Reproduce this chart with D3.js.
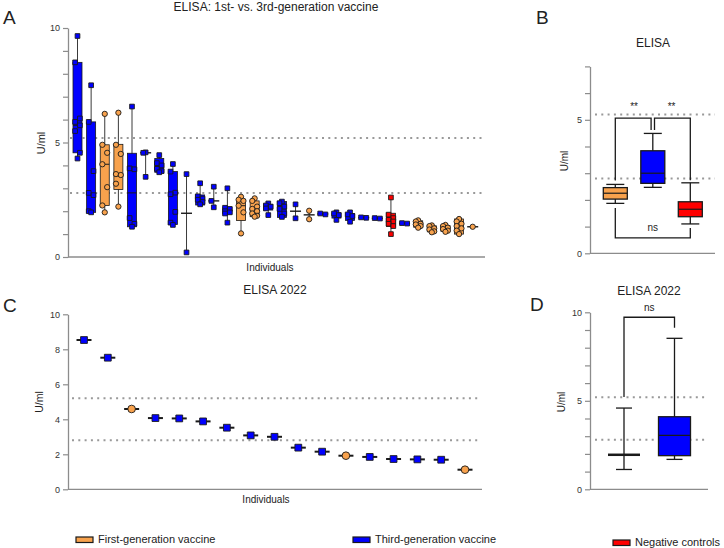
<!DOCTYPE html>
<html>
<head>
<meta charset="utf-8">
<script src="https://cdn.jsdelivr.net/npm/d3@7"></script>
<style>
body { margin: 0; background: #fff; }
text { font-family: "Liberation Sans", Arial, sans-serif; }
</style>
</head>
<body>
<script>
var width = 724,
    height = 548;

// ---- data ----
// groups: F = first-generation, T = third-generation, N = negative controls
var aGroup = ["T","T","F","F","T","T","T","T","T","T","T","T","F","F","T",
              "T","T","F","T","T","T","T","T","N","T","F","F","F","F","F"];

// panel A: every measurement of each individual
var aPoints = [
  [9.65, 8.5, 6.05, 5.9, 5.75, 5.5, 4.55, 4.3],
  [7.5, 5.9, 3.75, 2.8, 2.7, 2.0, 1.95],
  [6.25, 4.9, 4.55, 4.05, 3.05, 2.25, 1.95],
  [6.3, 4.9, 4.5, 3.62, 3.58, 3.2, 2.2],
  [6.57, 3.87, 3.83, 1.7, 1.45, 1.32],
  [4.57, 4.55, 3.5],
  [4.45, 4.1, 4.0, 3.85, 3.75, 3.7],
  [4.06, 3.73, 2.81, 2.74, 1.97, 1.5, 1.4],
  [3.62, 0.2],
  [3.22, 2.65, 2.55, 2.5, 2.4, 2.3],
  [3.07, 2.45, 2.17],
  [3.0, 2.15, 2.1, 2.0, 1.95, 1.9, 1.5],
  [2.63, 2.5, 2.45, 2.24, 1.95, 1.03],
  [2.56, 2.45, 2.2, 2.1, 2.0, 1.9, 1.8, 1.76],
  [2.34, 2.25, 2.2, 2.12, 1.83],
  [2.42, 2.35, 2.2, 2.1, 1.9, 1.75],
  [2.3, 1.69],
  [2.02, 1.65],
  [1.9, 1.86],
  [1.95, 1.9, 1.83, 1.62],
  [1.95, 1.86, 1.79, 1.54],
  [1.73, 1.71],
  [1.7, 1.68],
  [2.6, 1.85, 1.7, 1.62, 1.55, 1.45, 1.35, 1.0],
  [1.48, 1.46],
  [1.6, 1.55, 1.45, 1.42, 1.35, 1.28],
  [1.38, 1.35, 1.25, 1.2, 1.12, 1.08],
  [1.4, 1.35, 1.28, 1.22, 1.15, 1.1],
  [1.66, 1.55, 1.45, 1.35, 1.25, 1.15, 1.0],
  [1.32]
];
// panel A: [q1, median, q3]; q1/q3 null when no box is drawn
var aBox = [
  [4.55, 5.75, 8.5], [1.95, 2.75, 5.9], [2.25, 4.05, 4.9], [2.95, 3.6, 4.92],
  [1.32, 2.8, 4.53], [null, 4.55, null], [3.7, 3.95, 4.3], [1.42, 2.75, 3.73],
  [null, 1.91, null], [2.27, 2.48, 2.71], [null, 2.45, null], [1.88, 2.0, 2.17],
  [1.59, 2.24, 2.52], [1.76, 2.05, 2.45], [2.05, 2.2, 2.3], [1.73, 2.1, 2.42],
  [null, 2.0, null], [null, 1.84, null], [null, 1.88, null], [1.7, 1.86, 1.93],
  [1.6, 1.8, 1.9], [null, 1.72, null], [null, 1.69, null], [1.33, 1.6, 1.91],
  [null, 1.47, null], [1.3, 1.44, 1.58], [1.1, 1.22, 1.36], [1.12, 1.25, 1.38],
  [1.0, 1.35, 1.66], [null, 1.32, null]
];

// panel B: [min, q1, median, q3, max]
var bGroups = ["F", "T", "N"];
var bStats = [
  [1.87, 2.03, 2.25, 2.46, 2.58],
  [2.47, 2.62, 3.0, 3.84, 4.49],
  [1.1, 1.37, 1.65, 1.93, 2.64]
];
var bSig = ["**", "**", "ns"];

// panel C: one value per individual (2022)
var cGroup = ["T","T","F","T","T","T","T","T","T","T","T","F","T","T","T","T","F"];
var cValues = [8.53, 7.52, 4.59, 4.07, 4.05, 3.88, 3.52, 3.08, 3.0, 2.38, 2.15,
               1.92, 1.85, 1.73, 1.71, 1.69, 1.12];

// panel D: [min, q1, median, q3, max]
var dGroups = ["F", "T"];
var dStats = [
  [1.12, 1.95, 1.95, 1.95, 4.59],
  [1.69, 1.9, 3.05, 4.1, 8.53]
];
var dSig = "ns";

var cutoffs = [5.2, 2.8];

var legendKeys = ["F", "T", "N"];
var legendLabels = ["First-generation vaccine", "Third-generation vaccine", "Negative controls"];

// ---- style ----
var color = {F: "#f8a24d", T: "#0000ff", N: "#ff0000"};
var axisColor = "#8c8c8c",
    ink = "#1a1a1a";

var svg = d3.select("body").append("svg")
    .attr("width", width)
    .attr("height", height);

function leftAxis(x0, y, ticks, labelled) {
  var g = svg.append("g")
    .attr("transform", "translate(" + x0 + ",0)")
    .call(d3.axisLeft(y).tickValues(ticks).tickSize(5).tickSizeOuter(0).tickPadding(3)
      .tickFormat(function(d) { return labelled.indexOf(d) >= 0 ? d : ""; }));
  g.attr("font-family", null).attr("font-size", null);
  g.select(".domain").attr("stroke", axisColor).attr("stroke-width", 1.3);
  g.selectAll(".tick line").attr("stroke", axisColor).attr("stroke-width", 1.2);
  g.selectAll(".tick text").attr("fill", "#333").style("font-size", "9px");
}

function baseLine(x0, x1, y) {
  svg.append("line")
    .attr("x1", x0).attr("x2", x1)
    .attr("y1", y).attr("y2", y)
    .attr("stroke", axisColor).attr("stroke-width", 1.3);
}

function cutoffLines(x0, x1, y) {
  svg.append("g").selectAll("line")
    .data(cutoffs)
    .enter().append("line")
    .attr("x1", x0).attr("x2", x1)
    .attr("y1", function(d) { return y(d); })
    .attr("y2", function(d) { return y(d); })
    .attr("stroke", "#999")
    .attr("stroke-width", 2)
    .attr("stroke-dasharray", "2,4.3");
}

function label(x, y, txt, size, anchor, rotate) {
  var t = svg.append("text")
    .attr("x", x).attr("y", y)
    .attr("text-anchor", anchor || "middle")
    .style("font-size", size + "px")
    .attr("fill", "#222")
    .text(txt);
  if (rotate) t.attr("transform", "rotate(-90," + x + "," + y + ")");
  return t;
}

function marker(g, data, size) {
  // squares for blue/red, circles for orange
  g.selectAll("path")
    .data(data)
    .enter().append("path")
    .attr("d", function(d) {
      var type = d.g === "F" ? d3.symbolCircle : d3.symbolSquare;
      return d3.symbol().type(type).size(size)();
    })
    .attr("transform", function(d) { return "translate(" + d.x + "," + d.y + ")"; })
    .attr("fill", function(d) { return color[d.g]; })
    .attr("stroke", ink)
    .attr("stroke-width", 0.9);
}

// ---- panel A ----
var xA = d3.scalePoint().domain(d3.range(aPoints.length)).range([77.5, 472.7]);
var yA = d3.scaleLinear().domain([0, 10]).range([257, 28]);
var boxA = 9;

cutoffLines(70, 484, yA);

var gA = svg.append("g");
aPoints.forEach(function(vals, i) {
  var cx = xA(i), b = aBox[i], k = aGroup[i];
  gA.append("line")
    .attr("x1", cx).attr("x2", cx)
    .attr("y1", yA(d3.min(vals))).attr("y2", yA(d3.max(vals)))
    .attr("stroke", "#3a3a3a").attr("stroke-width", 1);
  if (b[0] !== null) {
    gA.append("rect")
      .attr("x", cx - boxA / 2).attr("width", boxA)
      .attr("y", yA(b[2])).attr("height", yA(b[0]) - yA(b[2]))
      .attr("fill", color[k]).attr("stroke", ink).attr("stroke-width", 0.8);
    gA.append("line")
      .attr("x1", cx - boxA / 2).attr("x2", cx + boxA / 2)
      .attr("y1", yA(b[1])).attr("y2", yA(b[1]))
      .attr("stroke", ink).attr("stroke-width", 1);
  } else {
    gA.append("line")
      .attr("x1", cx - 5.5).attr("x2", cx + 5.5)
      .attr("y1", yA(b[1])).attr("y2", yA(b[1]))
      .attr("stroke", ink).attr("stroke-width", 1.4);
  }
});

var aFlat = [];
aPoints.forEach(function(vals, i) {
  var n = vals.length;
  vals.forEach(function(v, j) {
    var dx = (j === 0 || j === n - 1) ? 0 : (j % 2 ? -2.4 : 2.4);
    if (n === 2 && Math.abs(vals[0] - vals[1]) < 0.05) dx = j ? 2.6 : -2.6;
    aFlat.push({g: aGroup[i], x: xA(i) + dx, y: yA(v)});
  });
});
marker(gA.append("g"), aFlat, 22);

leftAxis(68, yA, d3.range(0, 11), [0, 5, 10]);
baseLine(68, 485, yA(0));
label(276, 11, "ELISA: 1st- vs. 3rd-generation vaccine", 12);
label(270, 271, "Individuals", 10);
label(45, 143, "U/ml", 11, "middle", true);
label(3, 24, "A", 19, "start");

// ---- panel B ----
var xB = d3.scalePoint().domain(bGroups).range([615.3, 690.3]);
var yB = d3.scaleLinear().domain([0, 7]).range([253.3, 66.4]);

cutoffLines(595, 715, yB);

function capBoxes(groups, stats, x, y, boxW, capW, medW) {
  var g = svg.append("g");
  groups.forEach(function(k, i) {
    var s = stats[i], cx = x(k);
    g.append("line")
      .attr("x1", cx).attr("x2", cx)
      .attr("y1", y(s[0])).attr("y2", y(s[4]))
      .attr("stroke", ink).attr("stroke-width", 1.3);
    [s[0], s[4]].forEach(function(v) {
      g.append("line")
        .attr("x1", cx - capW / 2).attr("x2", cx + capW / 2)
        .attr("y1", y(v)).attr("y2", y(v))
        .attr("stroke", ink).attr("stroke-width", 1.3);
    });
    if (s[3] > s[1]) {
      g.append("rect")
        .attr("x", cx - boxW / 2).attr("width", boxW)
        .attr("y", y(s[3])).attr("height", y(s[1]) - y(s[3]))
        .attr("fill", color[k]).attr("stroke", ink).attr("stroke-width", 1.3);
      g.append("line")
        .attr("x1", cx - boxW / 2).attr("x2", cx + boxW / 2)
        .attr("y1", y(s[2])).attr("y2", y(s[2]))
        .attr("stroke", ink).attr("stroke-width", 1.2);
    } else {
      g.append("line")
        .attr("x1", cx - boxW / 2).attr("x2", cx + boxW / 2)
        .attr("y1", y(s[2])).attr("y2", y(s[2]))
        .attr("stroke", ink).attr("stroke-width", medW);
    }
  });
}

capBoxes(bGroups, bStats, xB, yB, 24, 18, 2.5);

function bracket(pts) {
  svg.append("path")
    .attr("d", d3.line()(pts))
    .attr("fill", "none")
    .attr("stroke", ink)
    .attr("stroke-width", 1.3);
}

var topB = yB(5.06), lowB = yB(0.58);
bracket([[xB("F"), yB(bStats[0][4] + 0.15)], [xB("F"), topB], [xB("T") - 1.7, topB], [xB("T") - 1.7, yB(bStats[1][4] + 0.13)]]);
bracket([[xB("T") + 1.7, yB(bStats[1][4] + 0.13)], [xB("T") + 1.7, topB], [xB("N"), topB], [xB("N"), yB(bStats[2][4] + 0.1)]]);
bracket([[xB("F"), yB(bStats[0][0] - 0.17)], [xB("F"), lowB], [xB("N"), lowB], [xB("N"), yB(bStats[2][0] - 0.15)]]);
label((xB("F") + xB("T")) / 2, topB - 8, bSig[0], 10);
label((xB("T") + xB("N")) / 2, topB - 8, bSig[1], 10);
label(xB("T"), lowB - 7, bSig[2], 10);

leftAxis(590, yB, d3.range(0, 8), [0, 5]);
baseLine(590, 715, yB(0));
label(653, 47, "ELISA", 12);
label(568, 161, "U/ml", 10, "middle", true);
label(536, 24, "B", 19, "start");

// ---- panel C ----
var xC = d3.scalePoint().domain(d3.range(cValues.length)).range([84, 465]);
var yC = d3.scaleLinear().domain([0, 10]).range([489.3, 314.3]);

cutoffLines(72, 481, yC);

var gC = svg.append("g");
gC.selectAll("line")
  .data(cValues)
  .enter().append("line")
  .attr("x1", function(d, i) { return xC(i) - 7.5; })
  .attr("x2", function(d, i) { return xC(i) + 7.5; })
  .attr("y1", function(d) { return yC(d); })
  .attr("y2", function(d) { return yC(d); })
  .attr("stroke", ink)
  .attr("stroke-width", 2);
marker(gC.append("g"), cValues.map(function(v, i) {
  return {g: cGroup[i], x: xC(i), y: yC(v)};
}), 46);

leftAxis(68, yC, d3.range(0, 11, 2), d3.range(0, 11, 2));
baseLine(68, 482, yC(0));
label(275, 294, "ELISA 2022", 12);
label(266, 503, "Individuals", 10);
label(43, 402, "U/ml", 10.5, "middle", true);
label(3, 312, "C", 19, "start");

// ---- panel D ----
var xD = d3.scalePoint().domain(dGroups).range([624, 674.5]);
var yD = d3.scaleLinear().domain([0, 10]).range([489.3, 312.3]);

cutoffLines(595, 708, yD);
capBoxes(dGroups, dStats, xD, yD, 32, 16, 2.5);

var topD = yD(9.72);
bracket([[xD("F"), yD(dStats[0][4] + 0.62)], [xD("F"), topD], [xD("T"), topD], [xD("T"), yD(dStats[1][4] + 0.6)]]);
label((xD("F") + xD("T")) / 2, topD - 6, dSig, 10);

leftAxis(590, yD, d3.range(0, 11), [0, 5, 10]);
baseLine(590, 708, yD(0));
label(649, 295, "ELISA 2022", 12);
label(565, 402, "U/ml", 10, "middle", true);
label(530, 311, "D", 19, "start");

// ---- legend ----
var legX = [76, 353, 613],
    legY = [537, 537, 540];
var leg = svg.append("g").selectAll("g")
  .data(legendKeys)
  .enter().append("g")
  .attr("transform", function(d, i) { return "translate(" + legX[i] + "," + legY[i] + ")"; });
leg.append("rect")
  .attr("width", 17).attr("height", 5.5)
  .attr("fill", function(d) { return color[d]; })
  .attr("stroke", ink).attr("stroke-width", 1.2);
leg.append("text")
  .attr("x", 22).attr("y", 6)
  .style("font-size", "11px")
  .attr("fill", "#222")
  .text(function(d, i) { return legendLabels[i]; });
</script>
</body>
</html>
